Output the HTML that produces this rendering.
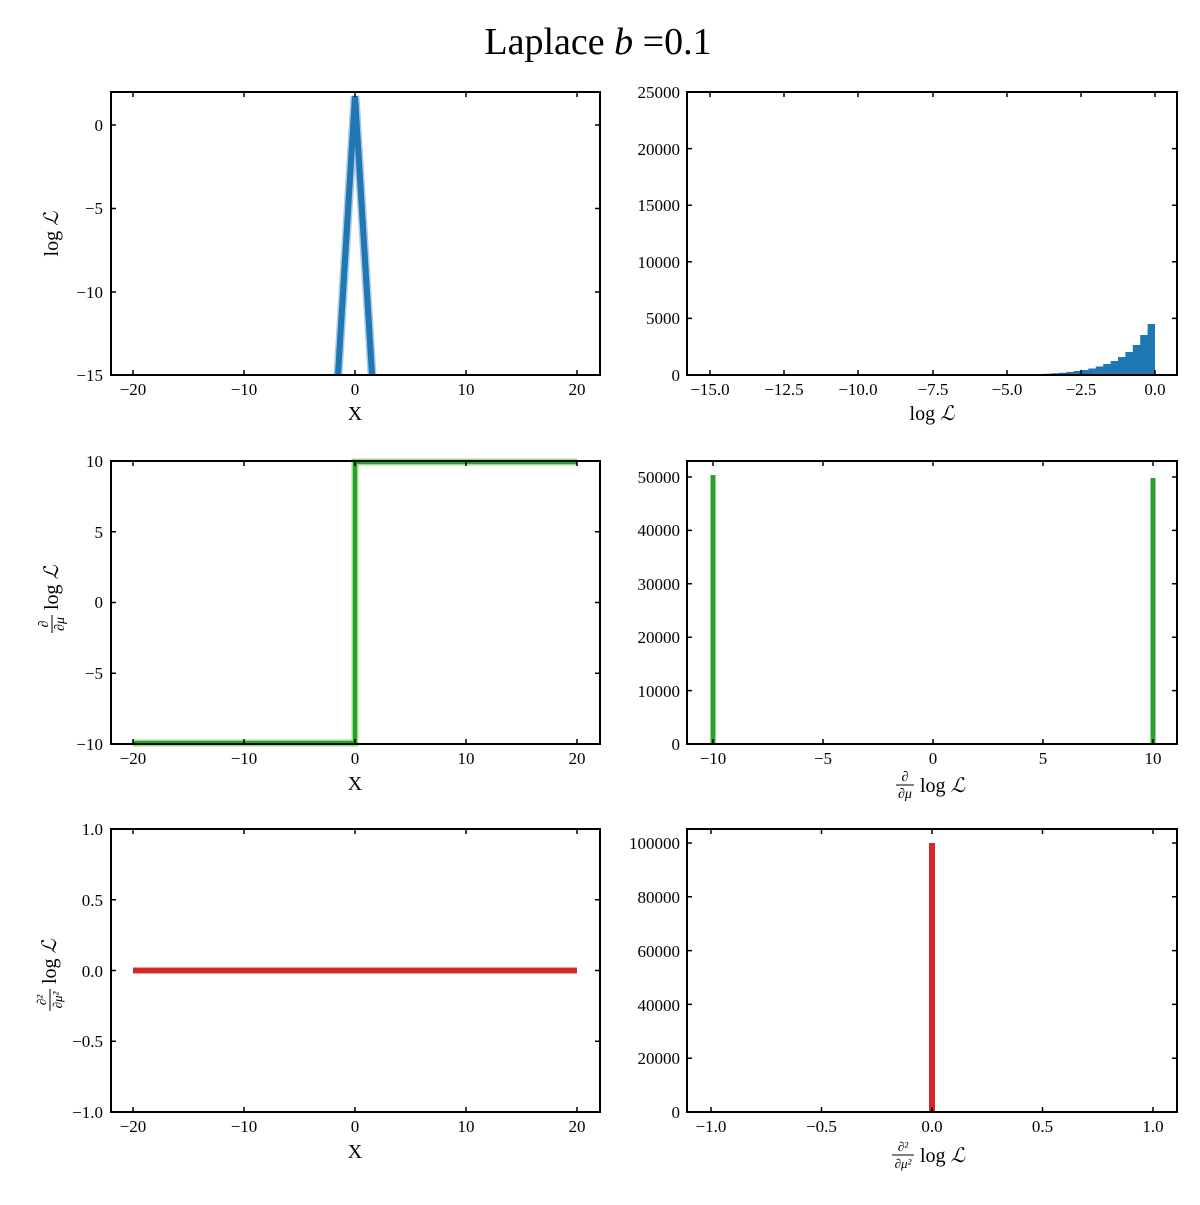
<!DOCTYPE html>
<html><head><meta charset="utf-8"><style>
html,body{margin:0;padding:0;background:#fff}
svg text{font-family:"Liberation Serif",serif;fill:#000}
</style></head><body>
<svg width="1200" height="1200" viewBox="0 0 1200 1200" xmlns="http://www.w3.org/2000/svg">
<rect width="1200" height="1200" fill="#fff"/>
<text x="598" y="54" font-size="38" text-anchor="middle">Laplace <tspan font-style="italic">b</tspan> =0.1</text>

<!-- Top-left -->
<g>
<polyline points="338,375 355,96 372,375" fill="none" stroke="#aec7e8" stroke-width="9" stroke-linejoin="miter"/>
<polyline points="338,375 355,96 372,375" fill="none" stroke="#1f77b4" stroke-width="6"/>
<rect x="111" y="92" width="489" height="283" fill="none" stroke="#000" stroke-width="2"/>
<g stroke="#000" stroke-width="1.5">
<path d="M133,375v-5M244,375v-5M355,375v-5M466,375v-5M577,375v-5M133,92v5M244,92v5M355,92v5M466,92v5M577,92v5"/>
<path d="M111,125h5M111,208.5h5M111,292h5M111,375h5M600,125h-5M600,208.5h-5M600,292h-5M600,375h-5"/>
</g>
<g font-size="17" text-anchor="middle">
<text x="133" y="395">−20</text><text x="244" y="395">−10</text><text x="355" y="395">0</text><text x="466" y="395">10</text><text x="577" y="395">20</text>
</g>
<g font-size="17" text-anchor="end">
<text x="103" y="131">0</text><text x="103" y="214">−5</text><text x="103" y="298">−10</text><text x="103" y="381">−15</text>
</g>
<text x="355" y="420" font-size="20" text-anchor="middle">X</text>
<text transform="translate(58,234) rotate(-90)" font-size="20" text-anchor="middle">log <tspan font-style="italic">ℒ</tspan></text>
</g>

<!-- Top-right -->
<g>
<path d="M1044,375V373.7H1051.4V373.2H1058.8V372.7H1066.2V372H1073.6V371H1081V370H1088.4V368.5H1095.8V366.5H1103.2V364H1110.6V361H1118V357H1125.4V352H1132.8V345H1140.2V335H1147.6V324H1155V375Z" fill="#1f77b4"/>
<rect x="687" y="92" width="490" height="283" fill="none" stroke="#000" stroke-width="2"/>
<g stroke="#000" stroke-width="1.5">
<path d="M710,375v-5M784,375v-5M858,375v-5M933,375v-5M1007,375v-5M1081,375v-5M1155,375v-5M710,92v5M784,92v5M858,92v5M933,92v5M1007,92v5M1081,92v5M1155,92v5"/>
<path d="M687,318.4h5M687,261.8h5M687,205.2h5M687,148.6h5M1177,318.4h-5M1177,261.8h-5M1177,205.2h-5M1177,148.6h-5"/>
</g>
<g font-size="17" text-anchor="middle">
<text x="710" y="395">−15.0</text><text x="784" y="395">−12.5</text><text x="858" y="395">−10.0</text><text x="933" y="395">−7.5</text><text x="1007" y="395">−5.0</text><text x="1081" y="395">−2.5</text><text x="1155" y="395">0.0</text>
</g>
<g font-size="17" text-anchor="end">
<text x="680" y="381">0</text><text x="680" y="324">5000</text><text x="680" y="268">10000</text><text x="680" y="211">15000</text><text x="680" y="155">20000</text><text x="680" y="98">25000</text>
</g>
<text x="932" y="420" font-size="20" text-anchor="middle">log <tspan font-style="italic">ℒ</tspan></text>
</g>

<!-- Mid-left -->
<g>
<polyline points="133,743 355,743 355,462 577,462" fill="none" stroke="#98df8a" stroke-width="7"/>
<polyline points="133,743 355,743 355,462 577,462" fill="none" stroke="#2ca02c" stroke-width="4"/>
<rect x="111" y="461" width="489" height="283" fill="none" stroke="#000" stroke-width="2"/>
<g stroke="#000" stroke-width="1.5">
<path d="M133,744v-5M244,744v-5M355,744v-5M466,744v-5M577,744v-5M133,461v5M244,461v5M355,461v5M466,461v5M577,461v5"/>
<path d="M111,531.75h5M111,602.5h5M111,673.25h5M600,531.75h-5M600,602.5h-5M600,673.25h-5"/>
</g>
<g font-size="17" text-anchor="middle">
<text x="133" y="764">−20</text><text x="244" y="764">−10</text><text x="355" y="764">0</text><text x="466" y="764">10</text><text x="577" y="764">20</text>
</g>
<g font-size="17" text-anchor="end">
<text x="103" y="467">10</text><text x="103" y="538">5</text><text x="103" y="608">0</text><text x="103" y="679">−5</text><text x="103" y="750">−10</text>
</g>
<text x="355" y="790" font-size="20" text-anchor="middle">X</text>
<g transform="translate(52,602) rotate(-90)">
<text x="-22" y="-4" font-size="14" text-anchor="middle" font-style="italic">∂</text>
<line x1="-31" y1="0" x2="-13" y2="0" stroke="#000" stroke-width="1"/>
<text x="-22" y="12" font-size="14" text-anchor="middle" font-style="italic">∂μ</text>
<text x="-8" y="6" font-size="20">log <tspan font-style="italic">ℒ</tspan></text>
</g>
</g>

<!-- Mid-right -->
<g>
<rect x="710.5" y="475" width="5" height="269" fill="#2ca02c"/>
<rect x="1150.5" y="478" width="5" height="266" fill="#2ca02c"/>
<rect x="687" y="461" width="490" height="283" fill="none" stroke="#000" stroke-width="2"/>
<g stroke="#000" stroke-width="1.5">
<path d="M713,744v-5M823,744v-5M933,744v-5M1043,744v-5M1153,744v-5M713,461v5M823,461v5M933,461v5M1043,461v5M1153,461v5"/>
<path d="M687,690.6h5M687,637.2h5M687,583.8h5M687,530.4h5M687,477h5M1177,690.6h-5M1177,637.2h-5M1177,583.8h-5M1177,530.4h-5M1177,477h-5"/>
</g>
<g font-size="17" text-anchor="middle">
<text x="713" y="764">−10</text><text x="823" y="764">−5</text><text x="933" y="764">0</text><text x="1043" y="764">5</text><text x="1153" y="764">10</text>
</g>
<g font-size="17" text-anchor="end">
<text x="680" y="750">0</text><text x="680" y="697">10000</text><text x="680" y="643">20000</text><text x="680" y="590">30000</text><text x="680" y="536">40000</text><text x="680" y="483">50000</text>
</g>
<g>
<text x="905" y="781" font-size="14" text-anchor="middle" font-style="italic">∂</text>
<line x1="896" y1="785" x2="914" y2="785" stroke="#000" stroke-width="1"/>
<text x="905" y="798" font-size="14" text-anchor="middle" font-style="italic">∂μ</text>
<text x="920" y="792" font-size="20">log <tspan font-style="italic">ℒ</tspan></text>
</g>
</g>

<!-- Bottom-left -->
<g>
<line x1="133" y1="970.5" x2="577" y2="970.5" stroke="#ff9896" stroke-width="7"/>
<line x1="133" y1="970.5" x2="577" y2="970.5" stroke="#d62728" stroke-width="5"/>
<rect x="111" y="829" width="489" height="283" fill="none" stroke="#000" stroke-width="2"/>
<g stroke="#000" stroke-width="1.5">
<path d="M133,1112v-5M244,1112v-5M355,1112v-5M466,1112v-5M577,1112v-5M133,829v5M244,829v5M355,829v5M466,829v5M577,829v5"/>
<path d="M111,899.75h5M111,970.5h5M111,1041.25h5M600,899.75h-5M600,970.5h-5M600,1041.25h-5"/>
</g>
<g font-size="17" text-anchor="middle">
<text x="133" y="1132">−20</text><text x="244" y="1132">−10</text><text x="355" y="1132">0</text><text x="466" y="1132">10</text><text x="577" y="1132">20</text>
</g>
<g font-size="17" text-anchor="end">
<text x="103" y="835">1.0</text><text x="103" y="906">0.5</text><text x="103" y="977">0.0</text><text x="103" y="1047">−0.5</text><text x="103" y="1118">−1.0</text>
</g>
<text x="355" y="1158" font-size="20" text-anchor="middle">X</text>
<g transform="translate(50,970) rotate(-90)">
<text x="-30" y="-4" font-size="13" text-anchor="middle" font-style="italic">∂²</text>
<line x1="-41" y1="0" x2="-19" y2="0" stroke="#000" stroke-width="1"/>
<text x="-30" y="12" font-size="13" text-anchor="middle" font-style="italic">∂μ²</text>
<text x="-14" y="6" font-size="20">log <tspan font-style="italic">ℒ</tspan></text>
</g>
</g>

<!-- Bottom-right -->
<g>
<rect x="929" y="843" width="6" height="269" fill="#d62728"/>
<rect x="687" y="829" width="490" height="283" fill="none" stroke="#000" stroke-width="2"/>
<g stroke="#000" stroke-width="1.5">
<path d="M711,1112v-5M821.5,1112v-5M932,1112v-5M1042.5,1112v-5M1153,1112v-5M711,829v5M821.5,829v5M932,829v5M1042.5,829v5M1153,829v5"/>
<path d="M687,1058.2h5M687,1004.4h5M687,950.6h5M687,896.8h5M687,843h5M1177,1058.2h-5M1177,1004.4h-5M1177,950.6h-5M1177,896.8h-5M1177,843h-5"/>
</g>
<g font-size="17" text-anchor="middle">
<text x="711" y="1132">−1.0</text><text x="821.5" y="1132">−0.5</text><text x="932" y="1132">0.0</text><text x="1042.5" y="1132">0.5</text><text x="1153" y="1132">1.0</text>
</g>
<g font-size="17" text-anchor="end">
<text x="680" y="1118">0</text><text x="680" y="1064">20000</text><text x="680" y="1011">40000</text><text x="680" y="957">60000</text><text x="680" y="903">80000</text><text x="680" y="849">100000</text>
</g>
<g>
<text x="903" y="1151" font-size="13" text-anchor="middle" font-style="italic">∂²</text>
<line x1="892" y1="1155" x2="914" y2="1155" stroke="#000" stroke-width="1"/>
<text x="903" y="1168" font-size="13" text-anchor="middle" font-style="italic">∂μ²</text>
<text x="920" y="1162" font-size="20">log <tspan font-style="italic">ℒ</tspan></text>
</g>
</g>
</svg>
</body></html>
